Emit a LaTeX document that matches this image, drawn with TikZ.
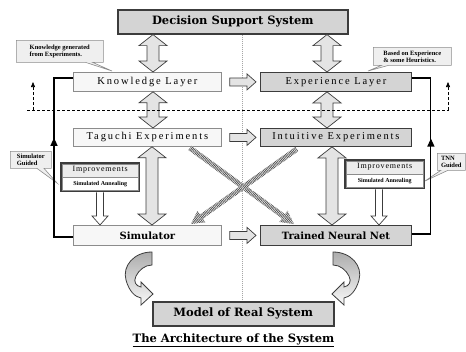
\documentclass[tikz,border=0pt]{standalone}
\usepackage{fontspec}
\setmainfont{Liberation Serif}
\newfontfamily\spfont{Liberation Serif}[LetterSpace=18]
\newfontfamily\spsmall{Liberation Serif}[LetterSpace=10]
\newfontfamily\bdfont{DejaVu Serif}
\usetikzlibrary{calc,patterns.meta,arrows.meta,shapes.callouts,decorations.markings}
\definecolor{boxgray}{HTML}{D4D4D4}
\definecolor{boxlight}{HTML}{F7F7F7}
\definecolor{linelight}{HTML}{8C8C8C}
\definecolor{linedark}{HTML}{3C3C3C}
\definecolor{arrowfill}{HTML}{E4E4E4}
\definecolor{callfill}{HTML}{EFEFEF}
\pgfdeclarelayer{bg}
\pgfsetlayers{bg,main}
\tikzset{
  bx/.style={inner sep=0pt, anchor=north west, align=center},
  litebox/.style={bx, draw=linelight, fill=boxlight, line width=0.8pt, font=\spfont\fontsize{10.5}{12}\selectfont},
  litebold/.style={bx, draw=linelight, fill=boxlight, line width=0.8pt, font=\bdfont\bfseries\fontsize{10}{12}\selectfont},
  graybox/.style={bx, draw=linedark, fill=boxgray, line width=0.9pt, font=\spfont\fontsize{10.5}{12}\selectfont},
  graybold/.style={graybox, font=\bdfont\bfseries\fontsize{10}{12}\selectfont},
  mainbox/.style={bx, draw=linedark, fill=boxgray, line width=1.6pt, font=\bdfont\bfseries\fontsize{11.5}{13}\selectfont},
  impbox/.style={bx, draw=linedark, fill=white, line width=2.4pt},
  blockarrow/.style={draw=linedark, fill=arrowfill, line width=0.7pt, line join=miter},
  feedback/.style={draw=black, line width=1.1pt, postaction={decorate},
    decoration={markings, mark=at position #1 with {\arrow{Triangle[length=8pt,width=7pt]}}}},
  dashline/.style={draw=black, line width=0.6pt, dash pattern=on 3pt off 2pt},
  centerline/.style={draw=gray!70, line width=0.5pt, dash pattern=on 1pt off 1pt},
  hatch/.style={preaction={fill=gray!10}, pattern={Lines[angle=#1,distance=1.5pt,line width=0.7pt]}, pattern color=gray!60!black},
  curvearrow/.style={draw=linedark, line width=0.8pt, top color=gray!65, bottom color=gray!5},
  callbox/.style={rectangle callout, draw=linelight, fill=callfill, line width=0.6pt, inner sep=1.5pt, anchor=north west, align=left, font=\bfseries\fontsize{6.5}{7}\selectfont},
  imptop/.style={font=\spsmall\fontsize{8}{9}\selectfont},
  impbot/.style={font=\bfseries\fontsize{6}{7}\selectfont}
}
\newcommand{\vdarrow}[3]{\draw[blockarrow] let \p0=(#1,0), \p1=(#2), \p2=(#3) in
  (\x0,\y1) -- (\x0+14pt,\y1-11pt) -- (\x0+6pt,\y1-11pt) -- (\x0+6pt,\y2+11pt) -- (\x0+14pt,\y2+11pt)
  -- (\x0,\y2) -- (\x0-14pt,\y2+11pt) -- (\x0-6pt,\y2+11pt) -- (\x0-6pt,\y1-11pt) -- (\x0-14pt,\y1-11pt) -- cycle;}
\newcommand{\hsarrow}[2]{\draw[blockarrow] let \p1=(#1.east), \p2=(#2.west) in
  (\x1+8pt,\y1+4pt) -- (\x2-13pt,\y1+4pt) -- (\x2-13pt,\y1+8pt) -- (\x2-4pt,\y1) -- (\x2-13pt,\y1-8pt)
  -- (\x2-13pt,\y1-4pt) -- (\x1+8pt,\y1-4pt) -- cycle;}
\newcommand{\dnarrow}[3]{\draw[blockarrow, fill=white] let \p0=(#1,0), \p1=(#2), \p2=(#3) in
  (\x0-3.5pt,\y1) -- (\x0-3.5pt,\y2+9pt) -- (\x0-8pt,\y2+9pt) -- (\x0,\y2) -- (\x0+8pt,\y2+9pt)
  -- (\x0+3.5pt,\y2+9pt) -- (\x0+3.5pt,\y1);}
\newcommand{\hatcharrow}[3]{\coordinate (hb) at ($(#2)!13pt!(#1)$);
  \path[hatch=#3] ($(#1)!2.6pt!90:(#2)$) -- ($(hb)!2.6pt!90:(#2)$) -- ($(hb)!7pt!90:(#2)$) -- (#2)
  -- ($(hb)!7pt!-90:(#2)$) -- ($(hb)!2.6pt!-90:(#2)$) -- ($(#1)!2.6pt!-90:(#2)$) -- cycle;}
\begin{document}
\begin{tikzpicture}[x=1pt,y=-1pt]
\useasboundingbox (0,0) rectangle (466,351);
% main boxes
\node[mainbox, minimum width=230pt, minimum height=24pt] (dss) at (117,9) {Decision Support System};
\node[litebox, minimum width=148pt, minimum height=19pt] (kl) at (73,72) {Knowledge Layer};
\node[graybox, minimum width=151pt, minimum height=19pt] (el) at (260,72) {Experience Layer};
\node[litebox, minimum width=148pt, minimum height=18pt] (tag) at (73,128) {Taguchi Experiments};
\node[graybox, minimum width=151pt, minimum height=18pt] (int) at (260,128) {Intuitive Experiments};
\node[litebold, minimum width=148pt, minimum height=20pt] (sim) at (73,225) {Simulator};
\node[graybold, minimum width=151pt, minimum height=20pt] (tnn) at (260,225) {Trained Neural Net};
\node[mainbox, minimum width=181pt, minimum height=24pt] (model) at (152,301) {Model of Real System};
\node[font=\bdfont\bfseries\fontsize{11.5}{13}\selectfont] (title) at (233.5,340) {\underline{The Architecture of the System}};
% centre line
\begin{pgfonlayer}{bg}
\draw[centerline] let \p0=(242,0), \p1=(dss.south), \p2=(model.north) in (\x0,\y1) -- (\x0,\y2);
\end{pgfonlayer}
% improvements boxes
\node[impbox, minimum width=78pt, minimum height=28pt] (impl) at (60,162) {};
\fill[boxgray!45] ($(impl.north west)+(2,2)$) rectangle ($(impl.east)+(-2,0)$);
\draw[linelight, line width=0.5pt] ($(impl.north west)+(2,2)$) rectangle ($(impl.south east)+(-2,-2)$);
\draw[linelight, line width=0.5pt] ($(impl.west)+(2,0)$) -- ($(impl.east)+(-2,0)$);
\node[imptop] (implt) at ($(impl.center)+(0,-7)$) {Improvements};
\node[impbot] (implb) at ($(impl.center)+(0,7)$) {Simulated Annealing};
\node[impbox, minimum width=79pt, minimum height=28pt] (impr) at (344,159) {};
\fill[boxgray!45] ($(impr.north west)+(2,2)$) rectangle ($(impr.east)+(-2,0)$);
\draw[linelight, line width=0.5pt] ($(impr.north west)+(2,2)$) rectangle ($(impr.south east)+(-2,-2)$);
\draw[linelight, line width=0.5pt] ($(impr.west)+(2,0)$) -- ($(impr.east)+(-2,0)$);
\node[imptop] (imprt) at ($(impr.center)+(0,-7)$) {Improvements};
\node[impbot] (imprb) at ($(impr.center)+(0,7)$) {Simulated Annealing};
% callouts
\node[callbox, callout absolute pointer={(112,71)}, minimum width=87pt, minimum height=22pt] (c1) at (16,40) {Knowledge generated\\from Experiments.};
\node[callbox, callout absolute pointer={(368,71)}, minimum width=78pt, minimum height=18pt] (c2) at (373,47) {Based on Experience\\\& some Heuristics.};
\node[callbox, callout absolute pointer={(57,183)}, minimum width=41pt, minimum height=17pt] (c3) at (10,151) {Simulator\\Guided};
\node[callbox, callout absolute pointer={(425,181)}, minimum width=28pt, minimum height=17pt] (c4) at (437,153) {TNN\\Guided};
% vertical double arrows
\vdarrow{153}{dss.south}{kl.north}
\vdarrow{327}{dss.south}{el.north}
\vdarrow{153}{kl.south}{tag.north}
\vdarrow{327}{el.south}{int.north}
\vdarrow{152}{tag.south}{sim.north}
\vdarrow{332}{int.south}{tnn.north}
% horizontal arrows
\hsarrow{kl}{el}
\hsarrow{tag}{int}
\hsarrow{sim}{tnn}
% improvement arrows
\dnarrow{100}{impl.south}{sim.north}
\dnarrow{379}{impr.south}{tnn.north}
% feedback lines
\draw[feedback=0.6] ($(sim.north west)+(0,12)$) -- ++(-19,0) |- ($(kl.north west)+(0,6)$);
\draw[feedback=0.59] ($(tnn.north east)+(0,9)$) -- ++(19,0) |- ($(el.north east)+(0,6)$);
% dashed divider
\coordinate (dl) at (27,110); \coordinate (dr) at (449,110);
\draw[dashline] (dl) -- (dr);
\coordinate (dla) at (33,110); \coordinate (dlb) at (33,82);
\coordinate (dra) at (448,110); \coordinate (drb) at (448,82);
\draw[dashline, -{Triangle[length=5pt,width=4pt]}] (dla) -- (dlb);
\draw[dashline, -{Triangle[length=5pt,width=4pt]}] (dra) -- (drb);
% hatched cross arrows
\coordinate (h1s) at (190,148); \coordinate (h1e) at (294,224);
\coordinate (h2s) at (297,149); \coordinate (h2e) at (191,224);
\hatcharrow{h1s}{h1e}{54}
\hatcharrow{h2s}{h2e}{125}
% curved arrows
\path[curvearrow] (152,252) .. controls (134,252) and (122,266) .. (126,280) .. controls (129,291) and (135,297) .. (141,298)
  -- (141,305) -- (153,294) -- (141,282) -- (141,287) .. controls (136,286) and (133,282) .. (136,276)
  .. controls (139,270) and (145,265) .. (152,265) -- cycle;
\path[curvearrow] (333,252) .. controls (351,252) and (363,266) .. (359,280) .. controls (356,291) and (350,297) .. (344,298)
  -- (344,305) -- (332,294) -- (344,282) -- (344,287) .. controls (349,286) and (352,282) .. (349,276)
  .. controls (346,270) and (340,265) .. (333,265) -- cycle;
\end{tikzpicture}
\end{document}
